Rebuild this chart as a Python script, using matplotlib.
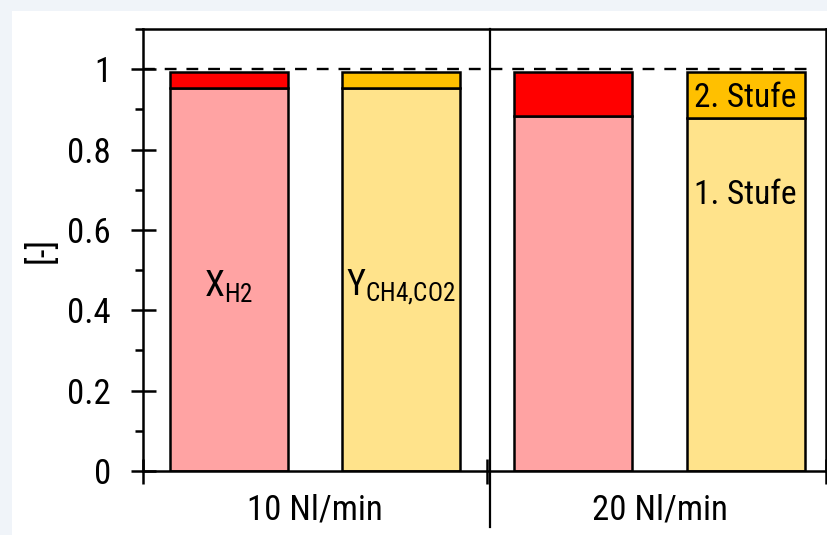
import matplotlib
matplotlib.use("Agg")
import matplotlib.pyplot as plt
from matplotlib.ticker import MultipleLocator
from matplotlib.patches import Rectangle

plt.rcParams["font.family"] = ["Roboto Condensed", "Archivo Narrow", "Liberation Sans", "DejaVu Sans"]
plt.rcParams["mathtext.default"] = "regular"

# conversion (X_H2) and yield (Y_CH4,CO2) per flow rate, split into stage 1 + stage 2
groups = ["10 Nl/min", "20 Nl/min"]
stage1 = [0.952, 0.952, 0.883, 0.878]
stage2 = [0.040, 0.040, 0.110, 0.115]
bar_x = [0, 1, 2, 3]
light_cols = ["#FFA3A3", "#FFE38B", "#FFA3A3", "#FFE38B"]
dark_cols = ["#FF0000", "#FFC000", "#FF0000", "#FFC000"]

fig = plt.figure(figsize=(8.28, 5.35), dpi=100)
fig.patch.set_facecolor("#F0F4F9")
fig.patches.append(Rectangle((12 / 828, 0), 1, 1 - 11 / 535, transform=fig.transFigure,
                             facecolor="white", edgecolor="none", zorder=-5))

ax = fig.add_axes([143 / 828, 1 - 471 / 535, (826.5 - 143) / 828, (471 - 29) / 535])
ax.set_facecolor("white")

bw = 0.685
ax.bar(bar_x, stage1, width=bw, color=light_cols, edgecolor="black", lw=1.8, zorder=2)
ax.bar(bar_x, stage2, width=bw, bottom=stage1, color=dark_cols, edgecolor="black",
       lw=1.8, zorder=2)
ax.axhline(1.0, xmin=0, xmax=0.971, color="black", lw=1.7, ls=(0, (5, 4.2)), zorder=3)

ax.set_xlim(-0.5, 3.47)
ax.set_ylim(0, 1.1)
ax.yaxis.set_minor_locator(MultipleLocator(0.1))
ax.set_yticks([0, 0.2, 0.4, 0.6, 0.8, 1.0])
ax.set_yticklabels(["0", "0.2", "0.4", "0.6", "0.8", "1"])
ax.tick_params(axis="y", which="major", direction="inout", length=18, width=1.8,
               labelsize=25, pad=14)
ax.tick_params(axis="y", which="minor", direction="out", length=6, width=1.8)
ax.set_xticks([-0.5, 1.5, 3.47])
ax.set_xticklabels([])
ax.tick_params(axis="x", direction="inout", length=18, width=1.8)
for s in ax.spines.values():
    s.set_linewidth(1.8)

# separator between the two flow rates
ax.plot([1.515, 1.515], [-0.14, 1.1], color="black", lw=1.6, clip_on=False, zorder=4)

for i, g in enumerate(groups):
    ax.text(2 * i + 0.5, -0.097, g, ha="center", va="center", fontsize=25,
            clip_on=False)

ax.set_ylabel("[-]", fontsize=25, labelpad=6)

ax.text(bar_x[0], 0.46, "$X_{H2}$", ha="center", va="center", fontsize=26)
ax.text(bar_x[1], 0.46, "$Y_{CH4{,}CO2}$", ha="center", va="center", fontsize=26)
ax.text(bar_x[3], 0.928, "2. Stufe", ha="center", va="center", fontsize=24, zorder=5)
ax.text(bar_x[3], 0.688, "1. Stufe", ha="center", va="center", fontsize=24, zorder=5)

fig.savefig("out.png", dpi=100, facecolor=fig.get_facecolor())
